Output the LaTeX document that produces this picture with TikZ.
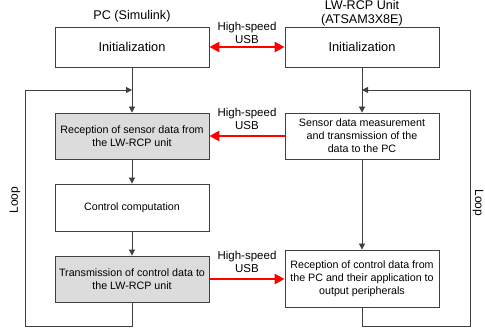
\documentclass[tikz,border=0pt]{standalone}
\usepackage{fontspec}
\setmainfont{Liberation Sans}
\usetikzlibrary{arrows.meta}
\definecolor{edge}{HTML}{404040}
\definecolor{shade}{HTML}{DCDCDC}
\begin{document}
\begin{tikzpicture}[x=1pt,y=-1pt,
  blk/.style={draw=edge,line width=0.8pt,minimum width=154pt,align=center,
    font=\fontsize{10.7}{13}\selectfont,inner sep=2pt},
  hblk/.style={blk,fill=shade},
  flow/.style={draw=edge,line width=0.8pt,-{Triangle[length=6pt,width=6pt]}},
  plain/.style={draw=edge,line width=0.8pt},
  usb/.style={draw=red,line width=2.6pt,-{Triangle[length=10pt,width=10pt]}},
  usbtxt/.style={align=center,font=\fontsize{11.5}{13.5}\selectfont,inner sep=0pt},
  title/.style={align=center,font=\fontsize{12.6}{13.6}\selectfont,inner sep=0pt}]
\useasboundingbox (0,0) rectangle (485,328);

% column titles
\node[title] (tpc) at (132,16) {PC (Simulink)};
\node[title] (tlw) at (362,13.5) {LW-RCP Unit\\(ATSAM3X8E)};

% PC side
\node[blk,minimum height=40pt,font=\fontsize{12.8}{14}\selectfont] (l1) at (132,47) {Initialization};
\node[hblk,minimum height=46pt] (l2) at (132,136) {Reception of sensor data from\\the LW-RCP unit};
\node[blk,minimum height=47pt] (l3) at (132,207.5) {Control computation};
\node[hblk,minimum height=46pt] (l4) at (132,279) {Transmission of control data to\\the LW-RCP unit};

% LW-RCP side
\node[blk,minimum height=40pt,font=\fontsize{12.8}{14}\selectfont] (r1) at (362,47) {Initialization};
\node[blk,minimum height=46pt] (r2) at (362,136) {Sensor data measurement\\and transmission of the\\data to the PC};
\node[blk,minimum height=57pt] (r3) at (362,278.5) {Reception of control data from\\the PC and their application to\\output peripherals};

% loop junctions and corners
\coordinate (jl) at (132,90);
\coordinate (jr) at (362,90);
\coordinate (bl) at (132,326);
\coordinate (cl1) at (25,326);
\coordinate (cl2) at (25,90);
\coordinate (br) at (362,326);
\coordinate (cr1) at (470,326);
\coordinate (cr2) at (470,90);

% PC flow
\draw[plain] (l1.south) -- (jl);
\draw[flow] (jl) -- (l2.north);
\draw[flow] (l2.south) -- (l3.north);
\draw[flow] (l3.south) -- (l4.north);
\draw[plain] (l4.south) -- (bl) -- (cl1) -- (cl2);
\draw[flow] (cl2) -- (jl);

% LW-RCP flow
\draw[plain] (r1.south) -- (jr);
\draw[flow] (jr) -- (r2.north);
\draw[flow] (r2.south) -- (r3.north);
\draw[plain] (r3.south) -- (br) -- (cr1) -- (cr2);
\draw[flow] (cr2) -- (jr);

% loop labels
\node[rotate=90,font=\fontsize{12}{14}\selectfont,inner sep=0pt] (loopl) at (15,200) {Loop};
\node[rotate=-90,font=\fontsize{12}{14}\selectfont,inner sep=0pt] (loopr) at (478,203) {Loop};

% USB links
\draw[usb,{Triangle[length=10pt,width=10pt]}-{Triangle[length=10pt,width=10pt]}] (l1.east) -- (r1.east -| r1.west);
\draw[usb] (r2.west) -- (l2.east);
\draw[usb] (l4.east) -- (l4.east -| r3.west);

\node[usbtxt] (u1) at (247,33) {High-speed\\USB};
\node[usbtxt] (u2) at (247,119) {High-speed\\USB};
\node[usbtxt] (u3) at (247,262) {High-speed\\USB};
\end{tikzpicture}
\end{document}
